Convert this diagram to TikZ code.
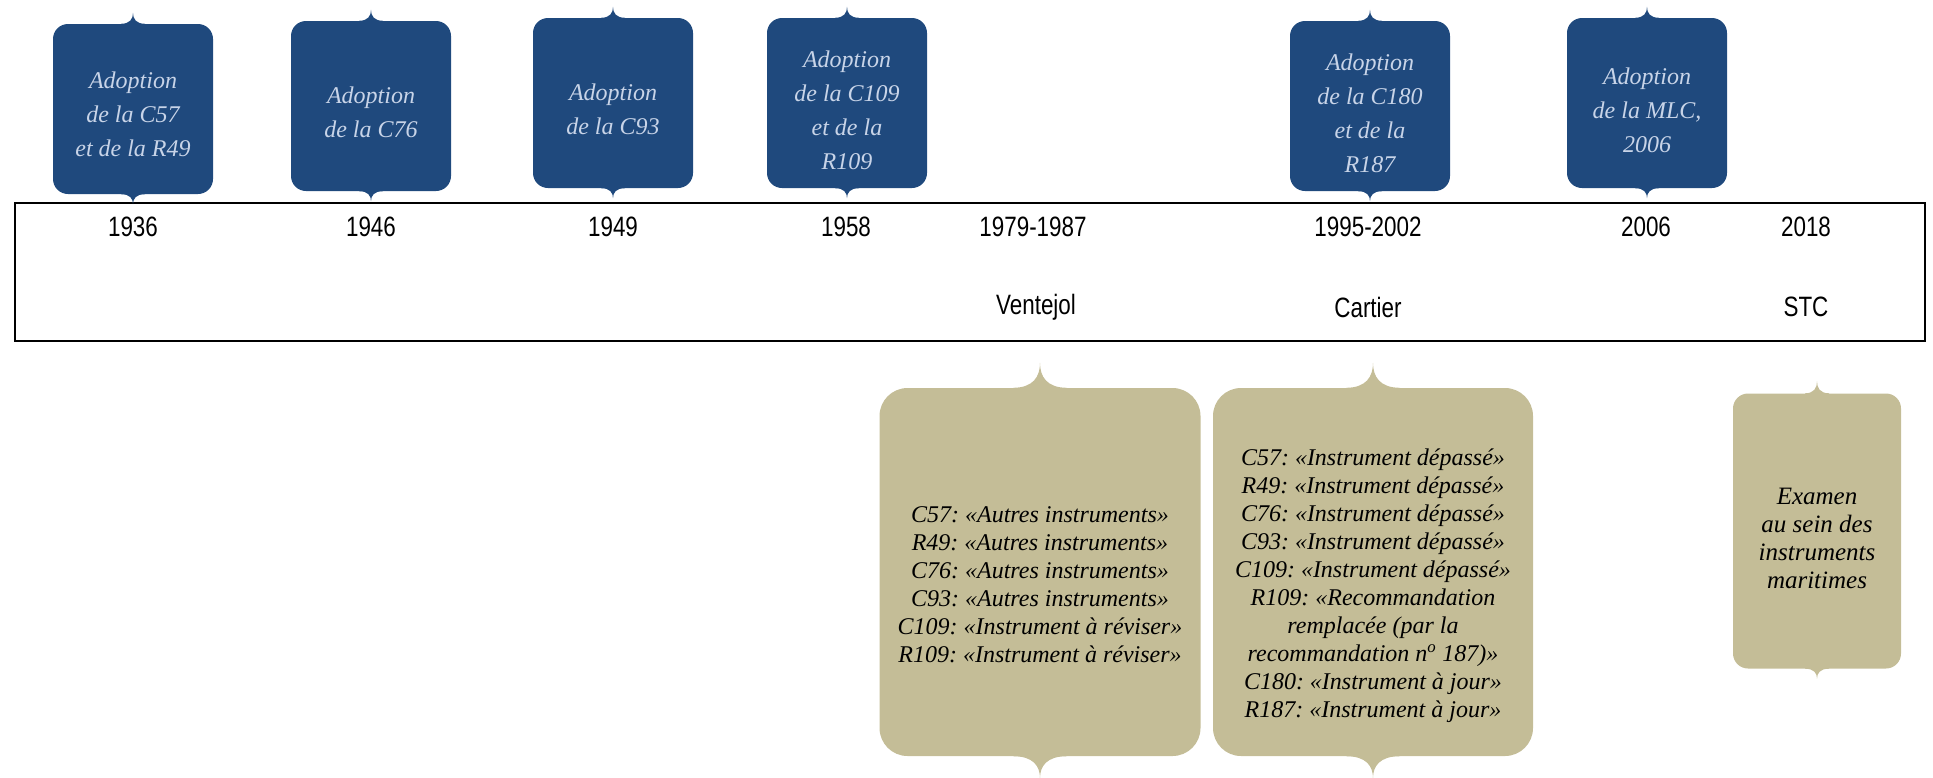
\documentclass[tikz,border=0pt]{standalone}
\usepackage{fontspec}
\usepackage{xcolor}
\newfontfamily\boxfont{Liberation Serif}
\newfontfamily\yearfont[FakeStretch=0.8]{Liberation Sans}
\definecolor{adoptblue}{HTML}{1F497D}
\definecolor{adopttext}{HTML}{C8D4E8}
\definecolor{reviewtan}{HTML}{C4BD97}
\frenchspacing
% colour, point, half width, height, 1 = up / -1 = down
\newcommand{\bracetip}[5]{%
  \fill[#1,shift={(#2)},yscale=#5] (-#3,1) -- (-#3,0)
    .. controls (-0.25*#3,0) and (0,-0.45*#4) .. (0,-#4)
    .. controls (0,-0.45*#4) and (0.25*#3,0) .. (#3,0) -- (#3,1) -- cycle;}
% taller first line, so the text sits lower in its box
\newcommand{\textlift}[1]{\rule{0pt}{#1pt}}

\begin{document}
\begin{tikzpicture}[x=1pt,y=-1pt,
  adopt/.style={fill=adoptblue,text=adopttext,rounded corners=15,minimum width=160,
    minimum height=170,align=center,font=\boxfont\itshape\fontsize{24}{34}\selectfont},
  review/.style={fill=reviewtan,text=black,rounded corners=28,minimum width=321,
    minimum height=368,align=center,font=\boxfont\itshape\fontsize{24}{28}\selectfont},
  year/.style={font=\yearfont\fontsize{28}{32}\selectfont}]
\useasboundingbox (0,0) rectangle (1933,777);
\draw[line width=2] (15,203) rectangle (1925,341);

\node[adopt] (ad36) at (133,109) {\textlift{27}Adoption\\de la C57\\et de la R49};
\node[adopt] (ad46) at (371,106) {\textlift{29}Adoption\\de la C76};
\node[adopt] (ad49) at (613,103) {\textlift{29}Adoption\\de la C93};
\node[adopt] (ad58) at (847,103) {\textlift{31}Adoption\\de la C109\\et de la\\R109};
\node[adopt] (ad95) at (1370,106) {\textlift{31}Adoption\\de la C180\\et de la\\R187};
\node[adopt] (ad06) at (1647,103) {\textlift{31}Adoption\\de la MLC,\\2006};
\foreach \n in {ad36,ad46,ad49,ad58,ad95,ad06} {
  \bracetip{adoptblue}{\n.north}{12}{11}{1}
  \bracetip{adoptblue}{\n.south}{12}{10}{-1}
}

\node[year] (y36) at (133,227) {1936};
\node[year] (y46) at (371,227) {1946};
\node[year] (y49) at (613,227) {1949};
\node[year] (y58) at (846,227) {1958};
\node[year] (y87) at (1033,227) {1979-1987};
\node[year] (y02) at (1368,227) {1995-2002};
\node[year] (y06) at (1646,227) {2006};
\node[year] (y18) at (1806,227) {2018};
\node[year] (ventejol) at (1036,307) {Ventejol};
\node[year] (cartier) at (1368,307) {Cartier};
\node[year] (stc) at (1806,307) {STC};

\node[review] (rev87) at (1040,572) {\textlift{41}C57: «Autres instruments»\\R49: «Autres instruments»\\
  C76: «Autres instruments»\\C93: «Autres instruments»\\C109: «Instrument à réviser»\\
  R109: «Instrument à réviser»};
\node[review,minimum width=320] (rev02) at (1373,572) {\textlift{45}C57: «Instrument dépassé»\\
  R49: «Instrument dépassé»\\C76: «Instrument dépassé»\\C93: «Instrument dépassé»\\
  C109: «Instrument dépassé»\\R109: «Recommandation\\remplacée (par la\\
  recommandation n\textsuperscript{o} 187)»\\C180: «Instrument à jour»\\R187: «Instrument à jour»};
\node[review,minimum width=168,minimum height=275,rounded corners=15,
  font=\boxfont\itshape\fontsize{25}{28}\selectfont] (rev18) at (1817,531)
  {\textlift{32}Examen\\au sein des\\instruments\\maritimes};
\foreach \n in {rev87,rev02} {
  \bracetip{reviewtan}{\n.north}{27}{25}{1}
  \bracetip{reviewtan}{\n.south}{27}{22}{-1}
}
\bracetip{reviewtan}{rev18.north}{12}{12}{1}
\bracetip{reviewtan}{rev18.south}{12}{10}{-1}
\end{tikzpicture}
\end{document}
